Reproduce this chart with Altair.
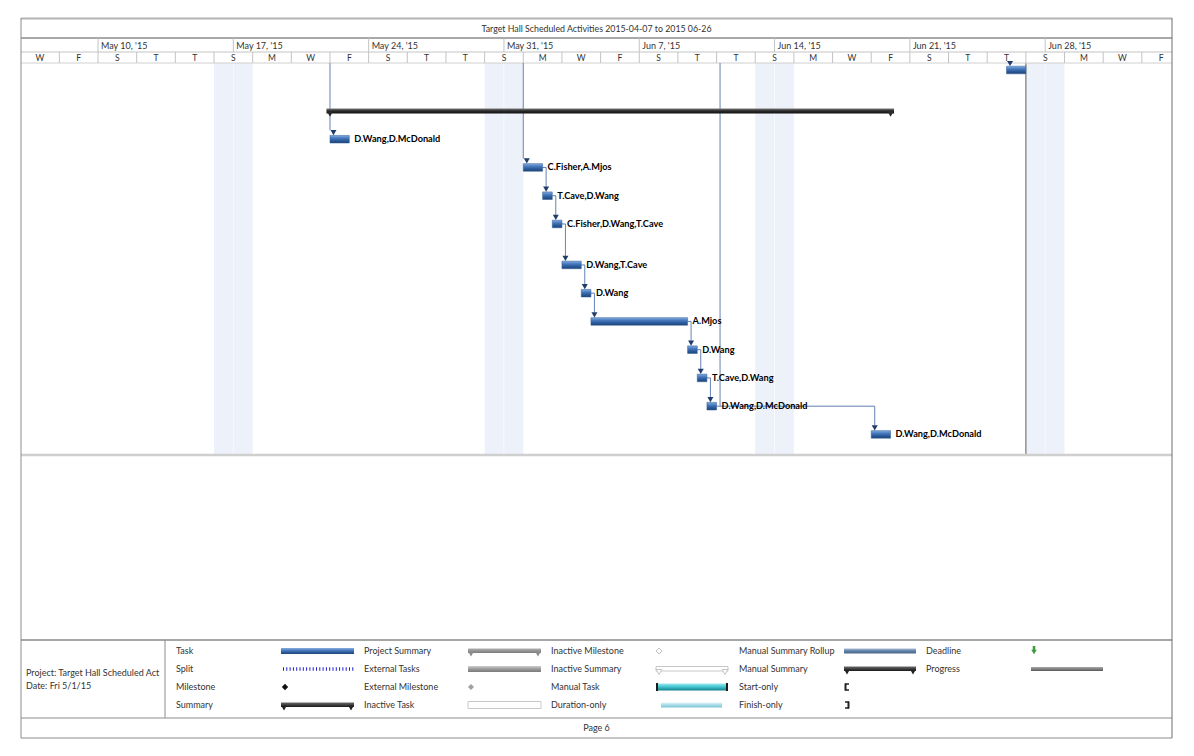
import altair as alt
import pandas as pd

# ------------------------------------------------------------------ data
title_text = "Target Hall Scheduled Activities 2015-04-07 to 2015 06-26"
footer_text = "Page 6"
project_lines = ["Project: Target Hall Scheduled Act", "Date: Fri 5/1/15"]

# timeline: day 0 = Wed May 6, 2015
month_labels = ["May 10, '15", "May 17, '15", "May 24, '15", "May 31, '15",
                "Jun 7, '15", "Jun 14, '15", "Jun 21, '15", "Jun 28, '15"]
month_start_day = [4, 11, 18, 25, 32, 39, 46, 53]
day_letters = ["W", "F", "S", "T", "T", "S", "M", "W", "F", "S", "T", "T", "S", "M", "W",
               "F", "S", "T", "T", "S", "M", "W", "F", "S", "T", "T", "S", "M", "W", "F"]
weekend_start_day = [10, 24, 38, 52]
status_day = 52

# relative heights of the table rows (two rows are taller)
row_lines = [1.45, 1, 1, 1, 1, 1.45, 1, 1, 1, 1, 1, 1, 1]

summary_row = 1
summary_start = 16
summary_finish = 45

task_row = [0, 2, 3, 4, 5, 6, 7, 8, 9, 10, 11, 12]
task_start = [51, 16, 26, 27, 27.5, 28, 29, 29.5, 34.5, 35, 35.5, 44]
task_finish = [52, 17, 27, 27.5, 28, 29, 29.5, 34.5, 35, 35.5, 36, 45]
task_resources = ["", "D.Wang,D.McDonald", "C.Fisher,A.Mjos", "T.Cave,D.Wang",
                  "C.Fisher,D.Wang,T.Cave", "D.Wang,T.Cave", "D.Wang", "A.Mjos",
                  "D.Wang", "T.Cave,D.Wang", "D.Wang,D.McDonald", "D.Wang,D.McDonald"]
task_pred = [None, None, None, 2, 3, 4, 5, 6, 7, 8, 9, 10]

# links that come in from the previous page
above_link_day = [16, 26, 36.18]
above_link_row = [2, 3, 11]
above_link_arrow = [True, True, False]

legend_cols = [
    ["Task", "Split", "Milestone", "Summary"],
    ["Project Summary", "External Tasks", "External Milestone", "Inactive Task"],
    ["Inactive Milestone", "Inactive Summary", "Manual Task", "Duration-only"],
    ["Manual Summary Rollup", "Manual Summary", "Start-only", "Finish-only"],
    ["Deadline", "Progress"],
]

# ------------------------------------------------------------------ layout
W, H = 1194, 756
X0, DPX = 20.7, 19.33          # pixel of day 0, pixels per day
R0, RPX = 70.0, 28.25          # pixel of row 0 center, pixels per row unit
FL, FR, FT, FB = 21, 1172, 18, 738
TITLE_B, MONTH_B, DAY_B, BODY_B = 38, 52, 63, 455
LEG_T, LEG_B, LEG_DIV = 640, 718, 165
FONT = "Lato"
TXT = "#333333"

xs = alt.Scale(domain=[-X0 / DPX, (W - X0) / DPX], nice=False, zero=False)
ys = alt.Scale(domain=[-R0 / RPX, (H - R0) / RPX], nice=False, zero=False, reverse=True)


def X(f):
    return alt.X(f, type="quantitative", scale=xs, axis=None)


def Y(f):
    return alt.Y(f, type="quantitative", scale=ys, axis=None)


def prow(p):
    return (p - R0) / RPX


def grad(*cols):
    n = len(cols)
    return alt.Gradient(gradient="linear",
                        stops=[alt.GradientStop(color=c, offset=i / (n - 1)) for i, c in enumerate(cols)],
                        x1=0, x2=0, y1=0, y2=1)


one = pd.DataFrame({"a": [0]})
layers = []


def hrule(x1, x2, y, color, w=1.0, dash=None):
    kw = dict(color=color, strokeWidth=w)
    if dash:
        kw["strokeDash"] = dash
    layers.append(alt.Chart(one).mark_rule(**kw).encode(
        x=alt.value(x1), x2=alt.value(x2), y=alt.value(y)))


def vrule(x, y1, y2, color, w=1.0):
    layers.append(alt.Chart(one).mark_rule(color=color, strokeWidth=w).encode(
        x=alt.value(x), y=alt.value(y1), y2=alt.value(y2)))


def box(x1, x2, y1, y2, fill, stroke=None, sw=1.0):
    kw = dict(color=fill)
    if stroke:
        kw["stroke"] = stroke
        kw["strokeWidth"] = sw
    layers.append(alt.Chart(one).mark_rect(**kw).encode(
        x=alt.value(x1), x2=alt.value(x2), y=alt.value(y1), y2=alt.value(y2)))


def sym(x, y, shape, size, fill, stroke=None, angle=0):
    kw = dict(shape=shape, size=size, filled=True, color=fill, opacity=1)
    if stroke:
        kw["stroke"] = stroke
        kw["strokeWidth"] = 1
    if angle:
        kw["angle"] = angle
    layers.append(alt.Chart(one).mark_point(**kw).encode(x=alt.value(x), y=alt.value(y)))


def txt(x, y, s, size=9, align="left", weight="normal", color=TXT):
    layers.append(alt.Chart(one).mark_text(
        align=align, baseline="middle", font=FONT, fontSize=size, fontWeight=weight, color=color
    ).encode(x=alt.value(x), y=alt.value(y), text=alt.value(s)))


# background page
box(0, W, 0, H, "white")

# ------------------------------------------------------------------ row positions
row_pos = [0.0]
for h in row_lines[:-1]:
    row_pos.append(row_pos[-1] + h)

BAR_HALF = 3.8 / RPX
CONN = 3.5 / DPX
ARR = 9.0 / RPX

# weekend shading
wk = pd.DataFrame({"s": weekend_start_day})
wk["e"] = wk["s"] + 2
wk["m"] = wk["s"] + 1
layers.append(alt.Chart(wk).mark_rect(color="#edf1f9").encode(
    x=X("s"), x2="e", y=alt.value(DAY_B), y2=alt.value(BODY_B)))
layers.append(alt.Chart(wk).mark_rule(color="#f8f9fd", strokeWidth=1).encode(
    x=X("m"), y=alt.value(DAY_B), y2=alt.value(BODY_B)))

# status line
layers.append(alt.Chart(pd.DataFrame({"d": [status_day]})).mark_rule(color="#8f8f8f", strokeWidth=1.5).encode(
    x=X("d"), y=alt.value(DAY_B), y2=alt.value(BODY_B)))

# ------------------------------------------------------------------ header
hrule(FL, FR, FT + 0.5, "#b4b4b4", 2)
hrule(FL, FR, TITLE_B, "#a9a9a9", 2)
hrule(FL, FR, MONTH_B, "#c4c4c4", 1)
hrule(FL, FR, DAY_B, "#d0d0d0", 1)
txt((FL + FR) / 2, 28.5, title_text, 8.8, "center")

mdf = pd.DataFrame({"d": month_start_day, "t": month_labels})
layers.append(alt.Chart(mdf).mark_rule(color="#c4c4c4").encode(
    x=X("d"), y=alt.value(TITLE_B), y2=alt.value(MONTH_B)))
layers.append(alt.Chart(mdf).mark_text(align="left", baseline="middle", dx=3, font=FONT,
                                       fontSize=9, color=TXT).encode(
    x=X("d"), y=alt.value(45.5), text="t"))

ddf = pd.DataFrame({"c": [2 * i + 1 for i in range(len(day_letters))], "t": day_letters})
ddf["g"] = ddf["c"] + 1
layers.append(alt.Chart(ddf[ddf["g"] < 59.5]).mark_rule(color="#c4c4c4").encode(
    x=X("g"), y=alt.value(MONTH_B), y2=alt.value(DAY_B)))
layers.append(alt.Chart(ddf).mark_text(align="center", baseline="middle", font=FONT,
                                       fontSize=8.5, color=TXT).encode(
    x=X("c"), y=alt.value(58), text="t"))

# ------------------------------------------------------------------ links
hseg, vseg = [], []
for i, p in enumerate(task_pred):
    if p is None:
        continue
    xc = task_start[i] + CONN
    hseg.append({"x1": task_finish[p], "x2": xc, "y": row_pos[task_row[p]]})
    vseg.append({"x": xc, "y1": row_pos[task_row[p]], "y2": row_pos[task_row[i]] - ARR})
for d, r, a in zip(above_link_day, above_link_row, above_link_arrow):
    vseg.append({"x": d, "y1": prow(DAY_B), "y2": row_pos[r] - (ARR if a else 0)})
layers.append(alt.Chart(pd.DataFrame(hseg)).mark_rule(color="#5f7fb2", strokeWidth=1).encode(
    x=X("x1"), x2="x2", y=Y("y")))
layers.append(alt.Chart(pd.DataFrame(vseg)).mark_rule(color="#6684b5", strokeWidth=1).encode(
    x=X("x"), y=Y("y1"), y2="y2"))

# ------------------------------------------------------------------ summary
sdf = pd.DataFrame({"s": [summary_start - CONN], "e": [summary_finish + CONN],
                    "y1": [row_pos[summary_row] - 2.5 / RPX], "y2": [row_pos[summary_row] + 2.5 / RPX]})
layers.append(alt.Chart(sdf).mark_rect(color=grad("#7a7a7a", "#2a2a2a", "#111111")).encode(
    x=X("s"), x2="e", y=Y("y1"), y2="y2"))
capdf = pd.DataFrame({"d": [summary_start, summary_finish], "y": [row_pos[summary_row]] * 2})
layers.append(alt.Chart(capdf).mark_point(shape="triangle-down", filled=True, size=40, color="#2a2a2a",
                                          opacity=1, yOffset=3).encode(x=X("d"), y=Y("y")))

# ------------------------------------------------------------------ tasks
tdf = pd.DataFrame({"s": task_start, "e": task_finish, "label": task_resources,
                    "y": [row_pos[r] for r in task_row]})
tdf["y1"] = tdf["y"] - BAR_HALF
tdf["y2"] = tdf["y"] + BAR_HALF
layers.append(alt.Chart(tdf).mark_rect(color=grad("#86aee2", "#4a7cc0", "#2d5c9c", "#1c4478"),
                                       stroke="#2f5a94", strokeWidth=0.5).encode(
    x=X("s"), x2="e", y=Y("y1"), y2="y2"))
layers.append(alt.Chart(tdf).mark_point(shape="triangle-down", filled=True, size=36, color="#1f3c6a",
                                        opacity=1, xOffset=3.5, yOffset=-6.5).encode(x=X("s"), y=Y("y")))
layers.append(alt.Chart(tdf).mark_text(align="left", baseline="middle", dx=5, font=FONT, fontSize=9.2,
                                       fontWeight="bold", color="#000000").encode(
    x=X("e"), y=Y("y"), text="label"))

# ------------------------------------------------------------------ frame / footer
hrule(FL, FR, BODY_B, "#cfcfcf", 2.5)
hrule(FL, FR, LEG_T, "#a6a6a6", 2)
hrule(FL, FR, LEG_B, "#8c8c8c", 1)
hrule(FL, FR, FB, "#8c8c8c", 1)
vrule(FL, FT, FB, "#8c8c8c", 1)
vrule(FR, FT, FB, "#6e6e6e", 1)
vrule(LEG_DIV, LEG_T, LEG_B, "#8c8c8c", 1)
txt((FL + FR) / 2, 728, footer_text, 9, "center")
txt(26, 673, project_lines[0], 9)
txt(26, 686, project_lines[1], 9)

# ------------------------------------------------------------------ legend
label_x = [176, 364, 551, 739, 926]
sym_x = [(281, 354), (468, 541), (656, 728), (844, 916), (1031, 1103)]
row_y = [651, 669, 687, 705]
for c, labels in enumerate(legend_cols):
    for r, s in enumerate(labels):
        txt(label_x[c], row_y[r], s, 9)


def caps(a, b, y, color, outline=False):
    for xx in (a + 3, b - 3):
        if outline:
            sym(xx, y + 3, "triangle-down", 34, "white", "#c4c4c4")
        else:
            sym(xx, y + 3, "triangle-down", 34, color)


# col 1
a, b = sym_x[0]
box(a, b, row_y[0] - 3, row_y[0] + 3, grad("#86aee2", "#3e70b5", "#1c4478"))
hrule(a + 2, b, row_y[1], "#1f1fd0", 3.5, [1, 2.3])
sym(a + 4, row_y[2], "diamond", 40, "#111111")
box(a, b, row_y[3] - 2.5, row_y[3] + 2, grad("#6a6a6a", "#1a1a1a"))
caps(a, b, row_y[3], "#222222")
# col 2
a, b = sym_x[1]
box(a, b, row_y[0] - 2.5, row_y[0] + 2, grad("#b0b0b0", "#7a7a7a"))
caps(a, b, row_y[0], "#8c8c8c")
box(a, b, row_y[1] - 3, row_y[1] + 3, grad("#cfcfcf", "#9a9a9a", "#7a7a7a"))
sym(a + 3, row_y[2], "diamond", 36, "#a0a0a0")
box(a, b, row_y[3] - 3.5, row_y[3] + 3.5, "white", "#c8c8c8", 1)
# col 3
a, b = sym_x[2]
sym(a + 3, row_y[0], "diamond", 36, "white", "#c0c0c0")
box(a, b, row_y[1] - 2.5, row_y[1] + 2, "white", "#c8c8c8", 1)
caps(a, b, row_y[1], "white", outline=True)
box(a, b, row_y[2] - 3.5, row_y[2] + 3.5, grad("#9be9ef", "#3fc2cc", "#157f8b"))
vrule(a + 1, row_y[2] - 4, row_y[2] + 4, "#1a1a1a", 2)
vrule(b - 1, row_y[2] - 4, row_y[2] + 4, "#1a1a1a", 2)
box(a + 5, b - 6, row_y[3] - 2.5, row_y[3] + 2.5, grad("#e2f4f8", "#a6dbe7", "#7cc4d8"))
# col 4
a, b = sym_x[3]
box(a, b, row_y[0] - 2.5, row_y[0] + 2.5, grad("#a9bcd6", "#5f7ea6", "#4a6890"))
box(a, b, row_y[1] - 2.5, row_y[1] + 2, grad("#6a6a6a", "#1a1a1a"))
caps(a, b, row_y[1], "#222222")
for rr, right in ((2, False), (3, True)):
    yy = row_y[rr]
    vx = a + 4.5 if right else a + 1.5
    vrule(vx, yy - 3.5, yy + 3.5, "#222222", 2)
    hrule(a + 1, a + 5, yy - 3, "#222222", 1.5)
    hrule(a + 1, a + 5, yy + 3, "#222222", 1.5)
# col 5
a, b = sym_x[4]
vrule(a + 3, row_y[0] - 5, row_y[0], "#3b9a3b", 2.5)
sym(a + 3, row_y[0] + 1, "triangle-down", 30, "#3b9a3b")
box(a, b, row_y[1] - 2, row_y[1] + 2, grad("#a8a8a8", "#5a5a5a"))

chart = alt.layer(*layers).properties(
    width=W, height=H, padding=0, autosize=alt.AutoSizeParams(type="none")
).configure_view(stroke="transparent")

chart.save("out.html", embed_options={"renderer": "svg", "actions": False})
